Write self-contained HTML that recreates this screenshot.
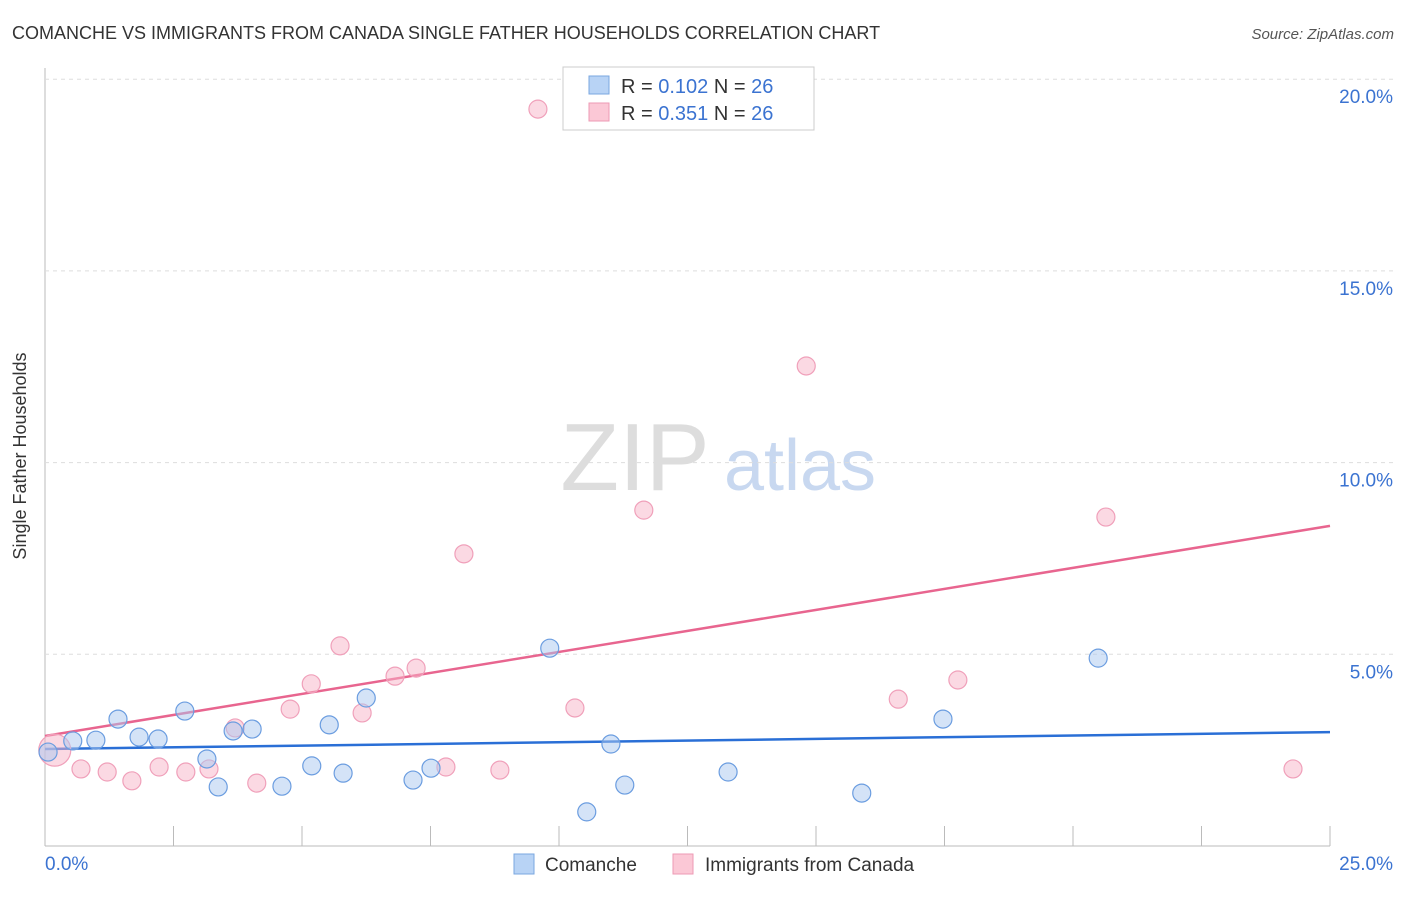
<!DOCTYPE html>
<html><head><meta charset="utf-8"><style>
body{margin:0;background:#fff;font-family:"Liberation Sans",sans-serif}
svg text{font-family:"Liberation Sans",sans-serif}
</style></head><body>
<svg id="c" width="1406" height="892" xmlns="http://www.w3.org/2000/svg">
<text x="12" y="39" font-size="18" fill="#333">COMANCHE VS IMMIGRANTS FROM CANADA SINGLE FATHER HOUSEHOLDS CORRELATION CHART</text>
<text x="1394" y="39" font-size="15" fill="#555" font-style="italic" text-anchor="end">Source: ZipAtlas.com</text>
<text x="26" y="456" font-size="18" fill="#333" text-anchor="middle" transform="rotate(-90 26 456)">Single Father Households</text>
<g><text x="635" y="490" font-size="96" fill="#ddd" font-family="Liberation Serif" text-anchor="middle">ZIP</text><text x="800" y="490" font-size="72" fill="#c8d8f0" text-anchor="middle">atlas</text></g>
<g id="grid"></g><g id="trend"></g><g id="pts"></g>
<g>
<rect x="563" y="67" width="251" height="63" fill="#fff" stroke="#ccc"/>
<rect x="589" y="76" width="20" height="18" fill="#b8d3f5" stroke="#7aa7e0"/>
<text x="621" y="93" font-size="20" fill="#333">R = <tspan fill="#3b73d1">0.102</tspan>   N = <tspan fill="#3b73d1">26</tspan></text>
<rect x="589" y="103" width="20" height="18" fill="#fbc8d6" stroke="#ee9ab4"/>
<text x="621" y="120" font-size="20" fill="#333">R = <tspan fill="#3b73d1">0.351</tspan>   N = <tspan fill="#3b73d1">26</tspan></text>
</g>
<g>
<rect x="514" y="854" width="20" height="20" fill="#b8d3f5" stroke="#7aa7e0"/><text x="545" y="871" font-size="19" fill="#333">Comanche</text>
<rect x="673" y="854" width="20" height="20" fill="#fbc8d6" stroke="#ee9ab4"/><text x="705" y="871" font-size="19" fill="#333">Immigrants from Canada</text>
</g>
</svg>
<script>
const blueX=[0.06,0.54,0.99,1.42,1.83,2.20,2.72,3.15,3.37,3.66,4.03,4.61,5.19,5.53,5.80,6.25,7.16,7.51,9.82,11.01,11.28,13.29,15.89,17.47,20.49,10.54];
const blueY=[2.45,2.74,2.76,3.31,2.84,2.79,3.52,2.27,1.54,3.00,3.05,1.56,2.09,3.16,1.90,3.86,1.72,2.03,5.16,2.66,1.59,1.93,1.38,3.31,4.90,0.89];
const pinkX=[0.19,0.70,1.21,1.69,2.22,2.74,3.19,3.70,4.12,4.77,5.18,5.74,6.17,6.81,7.22,7.80,8.15,8.85,9.59,10.31,11.65,14.81,16.60,17.76,20.64,24.28];
const pinkY=[2.50,2.01,1.93,1.70,2.06,1.93,2.01,3.08,1.64,3.57,4.23,5.22,3.47,4.43,4.64,2.06,7.62,1.98,19.22,3.60,8.76,12.52,3.83,4.33,8.58,2.01];
const blueTrend=[2.53,2.97];
const pinkTrend=[2.87,8.35];
const yTicks=[5,10,15,20];
const yTickLabels=["5.0%","10.0%","15.0%","20.0%"];
const xTicks=[0,2.5,5,7.5,10,12.5,15,17.5,20,22.5,25];
const xMin=0,xMax=25;
const NS="http://www.w3.org/2000/svg";
const X=v=>45+(v-xMin)/(xMax-xMin)*1285;
const Y=v=>846-v/5*191.7;
function mk(t,a,p){const e=document.createElementNS(NS,t);for(const k in a)e.setAttribute(k,a[k]);p.appendChild(e);return e;}
const grid=document.getElementById('grid');
let ax=mk('line',{x1:45,y1:68,x2:45,y2:846,stroke:'#bbb'},grid);

let bx=mk('line',{x1:45,y1:846,x2:1330,y2:846,stroke:'#bbb'},grid);

yTicks.forEach((t,i)=>{
 const g=mk('line',{x1:45,y1:Y(t),x2:1394,y2:Y(t),stroke:'#ddd','stroke-dasharray':'4,4'},grid);
 
 const l=mk('text',{x:1393,y:Y(t)+24,'font-size':19,fill:'#3b73d1','text-anchor':'end'},grid);l.textContent=yTickLabels[i];
 
});
xTicks.forEach((t,i)=>{if(i===0)return;
 const g=mk('line',{x1:X(t),y1:826,x2:X(t),y2:846,stroke:'#bbb'},grid);
 });
let l0=mk('text',{x:45,y:870,'font-size':19,fill:'#3b73d1'},grid);l0.textContent='0.0%';

let l1=mk('text',{x:1393,y:870,'font-size':19,fill:'#3b73d1','text-anchor':'end'},grid);l1.textContent='25.0%';

const pts=document.getElementById('pts');
pinkX.forEach((x,i)=>{const c=mk('circle',{cx:X(x),cy:Y(pinkY[i]),r:i===0?16:9,fill:'rgba(248,180,200,0.5)',stroke:'#f0a0ba','stroke-width':1.2},pts);
 });
blueX.forEach((x,i)=>{const c=mk('circle',{cx:X(x),cy:Y(blueY[i]),r:9,fill:'rgba(170,200,240,0.5)',stroke:'#6b9de0','stroke-width':1.2},pts);
 });
const tr=document.getElementById('trend');
let pt=mk('line',{x1:X(xMin),y1:Y(pinkTrend[0]),x2:X(xMax),y2:Y(pinkTrend[1]),stroke:'#e8658f','stroke-width':2.5},tr);

let bt=mk('line',{x1:X(xMin),y1:Y(blueTrend[0]),x2:X(xMax),y2:Y(blueTrend[1]),stroke:'#2a6fd6','stroke-width':2.5},tr);

</script>
</body></html>
